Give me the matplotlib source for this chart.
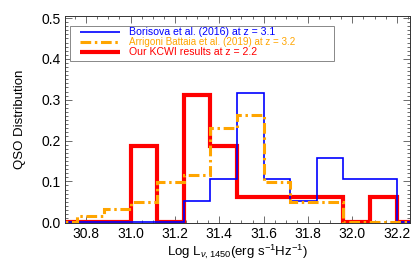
import numpy as np
import matplotlib
matplotlib.use('Agg')
import matplotlib.pyplot as plt
from matplotlib.patches import Rectangle
from matplotlib.ticker import MultipleLocator, FormatStrFormatter

plt.rcParams['font.family'] = ['Liberation Sans', 'DejaVu Sans']
plt.rcParams['mathtext.fontset'] = 'custom'
plt.rcParams['mathtext.rm'] = 'Liberation Sans'
plt.rcParams['mathtext.it'] = 'Liberation Sans:italic'

# bin edges (log L, 0.12 dex bins)
edges = [30.64, 30.76, 30.88, 31.00, 31.12, 31.24, 31.36, 31.48,
         31.60, 31.72, 31.84, 31.96, 32.08, 32.20, 32.32]

# counts per bin
borisova_counts = [0, 0, 0, 0, 0, 1, 2, 6, 2, 1, 3, 2, 2, 0]
arrigoni_counts = [0, 1, 2, 3, 6, 7, 14, 16, 6, 3, 3, 0, 0, 0]
kcwi_counts = [0, 0, 0, 3, 0, 5, 3, 1, 1, 1, 1, 0, 1, 0]

labels = ['Borisova et al. (2016) at z = 3.1',
          'Arrigoni Battaia et al. (2019) at z = 3.2',
          'Our KCWI results at z = 2.2']

borisova = np.array(borisova_counts) / sum(borisova_counts)
arrigoni = np.array(arrigoni_counts) / sum(arrigoni_counts)
kcwi = np.array(kcwi_counts) / sum(kcwi_counts)

fig = plt.figure(figsize=(4.15, 2.71), dpi=100)
ax = fig.add_axes([0.157, 0.177, 0.831, 0.764])

dashdot = (0, (3.5, 1.2, 0.8, 1.2))
ax.stairs(kcwi, edges, color='red', lw=3.0, zorder=2)
ax.stairs(borisova, edges, color='blue', lw=1.2, zorder=3)
ax.stairs(arrigoni, edges, color='orange', lw=2.2, zorder=4, linestyle=dashdot)

ax.set_xlim(30.705, 32.26)
ax.set_ylim(-0.002, 0.505)

ax.xaxis.set_major_locator(MultipleLocator(0.2))
ax.xaxis.set_minor_locator(MultipleLocator(0.05))
ax.yaxis.set_major_locator(MultipleLocator(0.1))
ax.yaxis.set_minor_locator(MultipleLocator(0.01))
ax.xaxis.set_major_formatter(FormatStrFormatter('%.1f'))
ax.yaxis.set_major_formatter(FormatStrFormatter('%.1f'))
ax.tick_params(which='both', direction='in', top=True, right=True,
               labelsize=10, color='#555555', width=0.6)
ax.tick_params(which='major', length=5, pad=3)
ax.tick_params(which='minor', length=2.5)
for s in ax.spines.values():
    s.set_linewidth(0.7)
    s.set_color('#333333')

ax.set_xlabel(r'Log L$_{\nu\mathrm{,1450}}$(erg s$^{\mathrm{-1}}$Hz$^{\mathrm{-1}}$)',
              fontsize=9.5, labelpad=1)
ax.set_ylabel('QSO Distribution', fontsize=9.5, labelpad=11)

# legend box drawn by hand (IDL style)
ax.add_patch(Rectangle((0.0145, 0.785), 0.765, 0.167, transform=ax.transAxes,
                       fill=True, facecolor='white', edgecolor='#888888',
                       lw=0.7, zorder=5))
rows = [0.922, 0.874, 0.826]
styles = [dict(color='blue', lw=1.2),
          dict(color='orange', lw=2.2, linestyle=dashdot),
          dict(color='red', lw=3.0)]
sizes = [7.6, 7.1, 7.6]
for y, lab, st, fs in zip(rows, labels, styles, sizes):
    ax.plot([0.0435, 0.159], [y, y], transform=ax.transAxes, zorder=6,
            solid_capstyle='butt', **st)
    ax.text(0.1855, y, lab, transform=ax.transAxes, color=st['color'],
            fontsize=fs, va='center', ha='left', zorder=6)

fig.savefig('out.png', dpi=100)
